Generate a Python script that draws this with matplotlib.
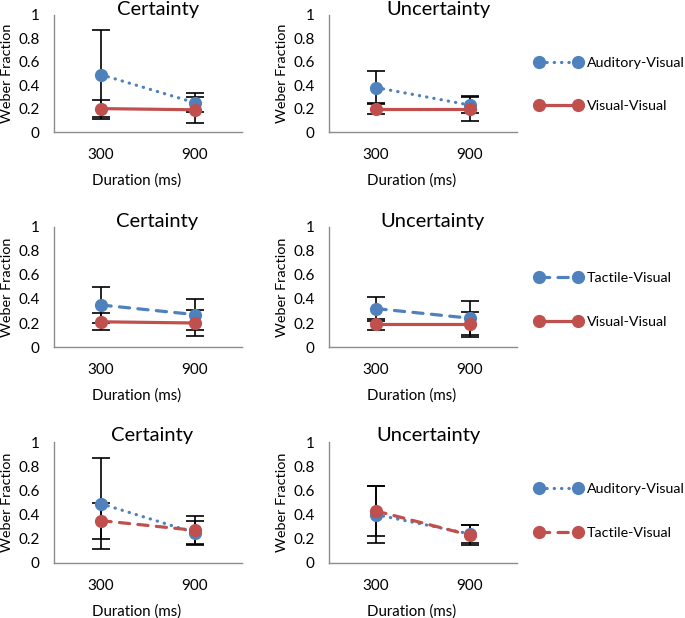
import matplotlib
matplotlib.use("Agg")
import matplotlib.pyplot as plt
from matplotlib.ticker import FuncFormatter

plt.rcParams['font.family'] = ['Lato', 'DejaVu Sans']

# Data
durations = ["300", "900"]

# Row 1: Auditory-Visual vs Visual-Visual
cert_av1 = [0.49, 0.25]
cert_av1_err = [0.38, 0.08]
cert_vv1 = [0.20, 0.19]
cert_vv1_err = [0.07, 0.11]
unc_av1 = [0.38, 0.23]
unc_av1_err = [0.14, 0.07]
unc_vv1 = [0.20, 0.20]
unc_vv1_err = [0.05, 0.11]

# Row 2: Tactile-Visual vs Visual-Visual
cert_tv2 = [0.35, 0.27]
cert_tv2_err = [0.15, 0.13]
cert_vv2 = [0.21, 0.20]
cert_vv2_err = [0.07, 0.11]
unc_tv2 = [0.32, 0.24]
unc_tv2_err = [0.10, 0.14]
unc_vv2 = [0.19, 0.19]
unc_vv2_err = [0.045, 0.105]

# Row 3: Auditory-Visual vs Tactile-Visual
cert_av3 = [0.49, 0.25]
cert_av3_err = [0.375, 0.095]
cert_tv3 = [0.35, 0.27]
cert_tv3_err = [0.15, 0.12]
unc_av3 = [0.40, 0.24]
unc_av3_err = [0.235, 0.078]
unc_tv3 = [0.43, 0.23]
unc_tv3_err = [0.21, 0.08]

BLUE = '#4F81BD'
RED = '#C0504D'
DOTTED = (0, (0.1, 2.2))
DASHED = (0, (3.2, 2.6))
SOLID = '-'

W, H = 685, 618
fig = plt.figure(figsize=(W / 100, H / 100), dpi=100)

# (top, bottom) pixel rows of the plot areas, left edges of columns
rows_px = [(15, 132), (227, 347), (442, 563)]
cols_px = [54, 329]
ax_w = 188
title_x = [[0.553, 0.585], [0.55, 0.548], [0.524, 0.527]]

panels = [
    [("Certainty", [(cert_av1, cert_av1_err, BLUE, DOTTED, "Auditory-Visual"),
                    (cert_vv1, cert_vv1_err, RED, SOLID, "Visual-Visual")]),
     ("Uncertainty", [(unc_av1, unc_av1_err, BLUE, DOTTED, "Auditory-Visual"),
                      (unc_vv1, unc_vv1_err, RED, SOLID, "Visual-Visual")])],
    [("Certainty", [(cert_tv2, cert_tv2_err, BLUE, DASHED, "Tactile-Visual"),
                    (cert_vv2, cert_vv2_err, RED, SOLID, "Visual-Visual")]),
     ("Uncertainty", [(unc_tv2, unc_tv2_err, BLUE, DASHED, "Tactile-Visual"),
                      (unc_vv2, unc_vv2_err, RED, SOLID, "Visual-Visual")])],
    [("Certainty", [(cert_av3, cert_av3_err, BLUE, DOTTED, "Auditory-Visual"),
                    (cert_tv3, cert_tv3_err, RED, DASHED, "Tactile-Visual")]),
     ("Uncertainty", [(unc_av3, unc_av3_err, BLUE, DOTTED, "Auditory-Visual"),
                      (unc_tv3, unc_tv3_err, RED, DASHED, "Tactile-Visual")])],
]

legend_y = [84.5, 300, 511]
x = list(range(len(durations)))

for r, (top, bot) in enumerate(rows_px):
    handles = []
    for c, (title, series) in enumerate(panels[r]):
        left = cols_px[c]
        ax = fig.add_axes([left / W, 1 - bot / H, ax_w / W, (bot - top) / H])
        for vals, errs, color, ls, label in series:
            ax.errorbar(x, vals, yerr=errs, fmt='none', ecolor='black',
                        elinewidth=1.2, capsize=6.5, capthick=1.2, zorder=2)
        for vals, errs, color, ls, label in series:
            line, = ax.plot(x, vals, color=color, linestyle=ls, linewidth=2.3,
                            marker='o', markersize=8.5, label=label,
                            dash_capstyle='round', solid_capstyle='round',
                            zorder=3)
            if c == 1:
                handles.append(line)
        ax.set_xlim(-0.5, 1.5)
        ax.set_ylim(0, 1)
        ax.set_xticks(x)
        ax.set_xticklabels(durations)
        ax.set_yticks([0, 0.2, 0.4, 0.6, 0.8, 1])
        ax.yaxis.set_major_formatter(FuncFormatter(lambda v, p: f"{v:g}"))
        ax.tick_params(axis='x', length=0, pad=11.5, labelsize=11)
        ax.tick_params(axis='y', length=0, pad=10.5, labelsize=11)
        for s in ('top', 'right'):
            ax.spines[s].set_visible(False)
        for s in ('left', 'bottom'):
            ax.spines[s].set_color('#8C8C8C')
            ax.spines[s].set_linewidth(1.0)
        ax.set_ylabel("Weber Fraction", fontsize=10.4)
        ax.yaxis.set_label_coords(-0.218, 0.5)
        ax.set_xlabel("Duration (ms)", fontsize=10.8, va='center')
        ax.xaxis.set_label_coords(0.44, -49 / (bot - top))
        ax.text(title_x[r][c], 1 + 6 / (bot - top), title, transform=ax.transAxes,
                ha='center', va='center', fontsize=14.5)

    fig.legend(handles=handles, loc='center left',
               bbox_to_anchor=(535 / W, 1 - legend_y[r] / H),
               frameon=False, numpoints=2, fontsize=10.3, handlelength=3.3,
               handletextpad=0.3, labelspacing=2.2, borderpad=0,
               borderaxespad=0)

fig.savefig("out.png", dpi=100)
